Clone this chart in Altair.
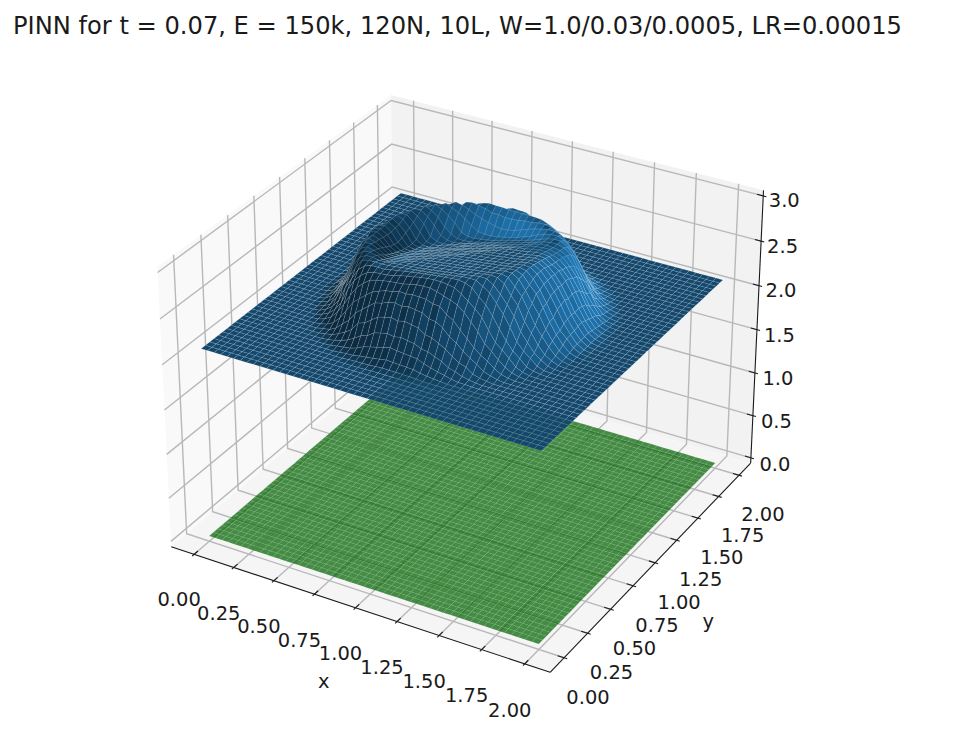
import numpy as np
import altair as alt

# ---------- values ----------
TITLE = "PINN for t = 0.07, E = 150k, 120N, 10L, W=1.0/0.03/0.0005, LR=0.00015"
x_ticks = [0.00, 0.25, 0.50, 0.75, 1.00, 1.25, 1.50, 1.75, 2.00]
y_ticks = [0.00, 0.25, 0.50, 0.75, 1.00, 1.25, 1.50, 1.75, 2.00]
z_ticks = [0.0, 0.5, 1.0, 1.5, 2.0, 2.5, 3.0]
n_cells = 50
centre = (1.0, 1.0)
base_height = 2.12        # height beyond r = 0.80
# surface height against distance from the centre, r = 0.00, 0.01, ... 0.80,
# read along three directions of the picture
front_z = [
    2.77, 2.775, 2.78, 2.78, 2.785, 2.79, 2.79, 2.795, 2.80, 2.80,
    2.805, 2.81, 2.81, 2.815, 2.82, 2.82, 2.825, 2.83, 2.83, 2.835,
    2.84, 2.84, 2.845, 2.85, 2.85, 2.855, 2.86, 2.86, 2.865, 2.87,
    2.87, 2.875, 2.88, 2.885, 2.89, 2.895, 2.90, 2.90, 2.90, 2.90,
    2.895, 2.885, 2.87, 2.85, 2.825, 2.80, 2.77, 2.74, 2.71, 2.68,
    2.65, 2.61, 2.57, 2.53, 2.49, 2.45, 2.42, 2.38, 2.35, 2.32,
    2.29, 2.27, 2.25, 2.23, 2.21, 2.19, 2.175, 2.16, 2.15, 2.14,
    2.135, 2.13, 2.125, 2.125, 2.12, 2.12, 2.12, 2.12, 2.12, 2.12, 2.12,
]
back_z = [
    2.77, 2.765, 2.76, 2.75, 2.745, 2.74, 2.73, 2.725, 2.72, 2.71,
    2.705, 2.70, 2.69, 2.685, 2.68, 2.67, 2.665, 2.66, 2.65, 2.645,
    2.64, 2.635, 2.63, 2.62, 2.615, 2.61, 2.60, 2.595, 2.59, 2.58,
    2.575, 2.57, 2.56, 2.555, 2.55, 2.545, 2.54, 2.54, 2.54, 2.54,
    2.545, 2.55, 2.56, 2.58, 2.61, 2.64, 2.67, 2.70, 2.73, 2.75,
    2.77, 2.785, 2.80, 2.81, 2.815, 2.815, 2.80, 2.77, 2.73, 2.69,
    2.64, 2.60, 2.55, 2.51, 2.46, 2.42, 2.38, 2.34, 2.31, 2.28,
    2.25, 2.22, 2.20, 2.18, 2.165, 2.15, 2.14, 2.13, 2.125, 2.12, 2.12,
]
side_z = [
    2.77, 2.77, 2.77, 2.77, 2.77, 2.77, 2.77, 2.77, 2.77, 2.77,
    2.77, 2.77, 2.77, 2.77, 2.77, 2.77, 2.77, 2.77, 2.77, 2.77,
    2.77, 2.77, 2.77, 2.77, 2.77, 2.77, 2.77, 2.77, 2.77, 2.77,
    2.77, 2.77, 2.775, 2.775, 2.775, 2.775, 2.78, 2.78, 2.78, 2.78,
    2.78, 2.78, 2.785, 2.785, 2.785, 2.785, 2.785, 2.79, 2.79, 2.79,
    2.79, 2.785, 2.78, 2.77, 2.755, 2.74, 2.72, 2.69, 2.65, 2.61,
    2.57, 2.53, 2.49, 2.45, 2.41, 2.37, 2.33, 2.295, 2.26, 2.23,
    2.205, 2.185, 2.17, 2.155, 2.145, 2.14, 2.135, 2.13, 2.125, 2.12, 2.12,
]

# ---------- 3D view ----------
W, H = 957, 715
X_LIM, Y_LIM, Z_LIM = (-0.1, 2.1), (-0.1, 2.1), (0.0, 3.0)
BOX = (1.1905, 1.1905, 0.8661)
U = np.array([0.8660, 0.5, 0.0])
V = np.array([-0.25, 0.4330, 0.8660])
N = np.array([0.4330, -0.75, 0.5])
DIST = 10.0
SX, SY, CX, CY = 3500.0, 3540.0, 466.0, 369.0


def proj(x, y, z):
    f = np.array([
        (x - X_LIM[0]) / (X_LIM[1] - X_LIM[0]) - 0.5,
        (y - Y_LIM[0]) / (Y_LIM[1] - Y_LIM[0]) - 0.5,
        (z - Z_LIM[0]) / (Z_LIM[1] - Z_LIM[0]) - 0.5,
    ]) * np.array(BOX)
    a, b, c = f @ U, f @ V, f @ N
    w = DIST - c
    return (round(CX + SX * a / w - 8, 2), round(CY - SY * b / w - 8, 2), w)


def height(x, y):
    dx_, dy_ = x - centre[0], y - centre[1]
    r = np.hypot(dx_, dy_)
    if r > 0.80:
        return base_height
    i = int(round(r * 100))
    s = (dx_ - dy_) / (np.sqrt(2) * r) if r > 0 else 0.0
    along = front_z[i] if s > 0 else back_z[i]
    return side_z[i] + abs(s) * (along - side_z[i])


def to_hex(rgb, k):
    return "#%02x%02x%02x" % tuple(min(255, int(round(c * k))) for c in rgb)


def polygon(pts, fill):
    ring = [list(p[:2]) for p in pts]
    ring.append(ring[0])
    return {"type": "Feature", "properties": {"fill": fill},
            "geometry": {"type": "Polygon", "coordinates": [ring]}}


def line(points3d):
    return {"type": "Feature", "properties": {},
            "geometry": {"type": "LineString",
                         "coordinates": [list(proj(*p)[:2]) for p in points3d]}}


def surface(zfun, rgb, light, gain=1.0):
    xs = np.linspace(0, 2, n_cells + 1)
    zs = [[zfun(a, b) for b in xs] for a in xs]
    cells = []
    L = np.array(light)
    for i in range(n_cells):
        for j in range(n_cells):
            c = [(xs[i], xs[j], zs[i][j]), (xs[i + 1], xs[j], zs[i + 1][j]),
                 (xs[i + 1], xs[j + 1], zs[i + 1][j + 1]), (xs[i], xs[j + 1], zs[i][j + 1])]
            p = [proj(*q) for q in c]
            d1 = np.subtract(c[2], c[0])
            d2 = np.subtract(c[3], c[1])
            n = np.cross(d1, d2)
            n = n / np.linalg.norm(n)
            # walls that lean inward are lit in the picture like the outer flank
            mx = (xs[i] + xs[i + 1]) / 2 - centre[0]
            my = (xs[j] + xs[j + 1]) / 2 - centre[1]
            if n[0] * mx + n[1] * my < 0:
                n = np.array([-n[0], -n[1], n[2]])
            k = gain * (0.3 + 0.7 * (float(n @ L) + 1) / 2)
            cells.append((np.mean([q[2] for q in p]), polygon(p, to_hex(rgb, k))))
    cells.sort(key=lambda t: -t[0])
    return [c[1] for c in cells]


# ---------- panes, grid, axes ----------
def pane_lim(lim):
    d = (lim[1] - lim[0]) / 48
    return lim[0] - d, lim[1] + d


x0, x1 = pane_lim(X_LIM)
y0, y1 = pane_lim(Y_LIM)
z0, z1 = pane_lim(Z_LIM)

panes = [
    polygon([proj(x0, y0, z0), proj(x0, y1, z0), proj(x0, y1, z1), proj(x0, y0, z1)], "#f9f9f9"),
    polygon([proj(x0, y1, z0), proj(x1, y1, z0), proj(x1, y1, z1), proj(x0, y1, z1)], "#f2f2f2"),
    polygon([proj(x0, y0, z0), proj(x1, y0, z0), proj(x1, y1, z0), proj(x0, y1, z0)], "#f5f5f5"),
]

grid = []
for t in x_ticks:
    grid.append(line([(t, y0, z0), (t, y1, z0), (t, y1, z1)]))
for t in y_ticks:
    grid.append(line([(x1, t, z0), (x0, t, z0), (x0, t, z1)]))
for t in z_ticks:
    grid.append(line([(x0, y0, t), (x0, y1, t), (x1, y1, t)]))

dx, dy = (X_LIM[1] - X_LIM[0]) / 12, (Y_LIM[1] - Y_LIM[0]) / 12
axes = [line([(x0, y0, z0), (x1, y0, z0)]),
        line([(x1, y0, z0), (x1, y1, z0)]),
        line([(x1, y1, z0), (x1, y1, z1)])]
labels = []
for t in x_ticks:
    axes.append(line([(t, y0 - 0.1 * dy, z0), (t, y0 + 0.2 * dy, z0)]))
    px, py, _ = proj(t, y0, z0)
    labels.append({"px": px - 15, "py": py + 46 + t * 0.5, "label": f"{t:.2f}"})
for t in y_ticks:
    axes.append(line([(x1 - 0.2 * dx, t, z0), (x1 + 0.1 * dx, t, z0)]))
    px, py, _ = proj(x1, t, z0)
    labels.append({"px": px + 24, "py": py + 40, "label": f"{t:.2f}"})
for t in z_ticks:
    axes.append(line([(x1 - 0.2 * dx, y1, t), (x1 + 0.1 * dx, y1, t)]))
    px, py, _ = proj(x1, y1, t)
    labels.append({"px": px + 24 - t, "py": py + 7 - t * 0.6, "label": f"{t:.1f}"})

titles = [{"px": 323 - 8, "py": 682 - 8, "label": "x"},
          {"px": 708 - 8, "py": 622 - 8, "label": "y"}]
heading = [{"px": 12 - 8, "py": 27 - 8, "label": TITLE}]

# ---------- layers ----------
frame = [polygon([(0, 0), (W, 0), (W, H), (0, H)], "transparent")]
fill_enc = alt.Fill("properties.fill:N", scale=None, legend=None)


def polys(features, **kw):
    return alt.Chart(alt.Data(values=features)).mark_geoshape(**kw).encode(fill=fill_enc)


def lines(features, color, width):
    return alt.Chart(alt.Data(values=features)).mark_geoshape(
        filled=False, stroke=color, strokeWidth=width)


def texts(rows, size, align="center"):
    return alt.Chart(alt.Data(values=rows)).mark_text(
        font="DejaVu Sans", fontSize=size, color="#1a1a1a", align=align, baseline="middle"
    ).encode(longitude="px:Q", latitude="py:Q", text="label:N")


green_cells = surface(lambda a, b: 0.0, (0, 128, 0), (-0.667, -0.667, 0.333))
blue_cells = surface(height, (31, 119, 180), (0.667, 0.667, -0.333), gain=1.12)

chart = alt.layer(
    polys(frame),
    polys(panes),
    lines(grid, "#b8b8b8", 1.4),
    lines(axes, "#1a1a1a", 1.1),
    polys(green_cells, fillOpacity=0.72, stroke="#ffffff", strokeOpacity=0.12, strokeWidth=0.5),
    polys(blue_cells, stroke="#ffffff", strokeOpacity=0.2, strokeWidth=0.6),
    texts(labels, 19.5),
    texts(titles, 19.5),
    texts(heading, 24.2, "left"),
).project(type="identity").properties(
    width=W, height=H, padding=0
).configure_view(stroke=None)

chart.save("out.html", embed_options={"renderer": "svg", "actions": False})
